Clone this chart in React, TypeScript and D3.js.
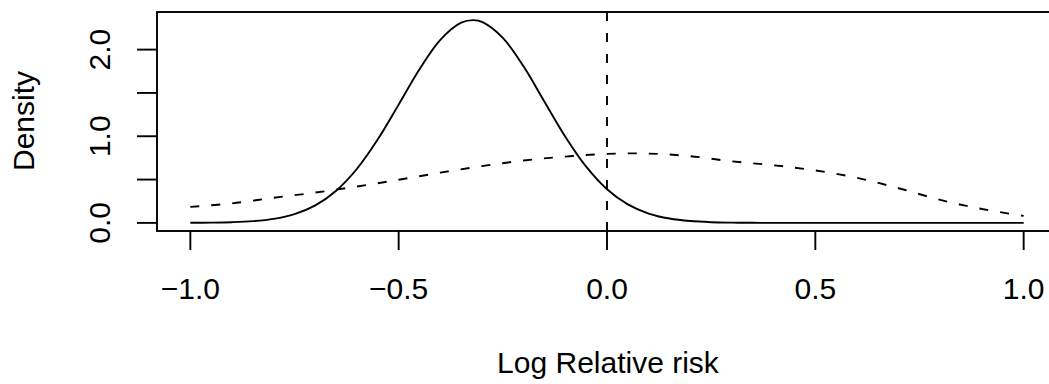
import React, { useEffect, useRef } from "react";
import * as d3 from "d3";

// x positions (log relative risk) where the curves were read
const solidX = [
  -1.0, -0.95, -0.9, -0.85, -0.8, -0.75, -0.7, -0.65, -0.6, -0.55, -0.5, -0.45,
  -0.4, -0.35, -0.32, -0.3, -0.25, -0.2, -0.15, -0.1, -0.05, 0.0, 0.05, 0.1,
  0.15, 0.2, 0.25, 0.3, 0.35, 0.4, 0.5, 0.6, 0.7, 0.8, 0.9, 1.0,
];
const solidDensity = [
  0.001, 0.003, 0.008, 0.02, 0.047, 0.102, 0.203, 0.372, 0.625, 0.965, 1.365,
  1.773, 2.113, 2.311, 2.34, 2.319, 2.135, 1.804, 1.398, 0.995, 0.649, 0.389,
  0.214, 0.108, 0.05, 0.021, 0.008, 0.003, 0.001, 0.0, 0.0, 0.0, 0.0, 0.0, 0.0,
  0.0,
];

const dashedX = [
  -1.0, -0.9, -0.8, -0.7, -0.6, -0.5, -0.4, -0.3, -0.2, -0.1, 0.0, 0.1, 0.2,
  0.3, 0.4, 0.5, 0.6, 0.7, 0.8, 0.9, 1.0,
];
const dashedDensity = [
  0.185, 0.225, 0.29, 0.35, 0.42, 0.498, 0.58, 0.655, 0.72, 0.765, 0.796, 0.8,
  0.77, 0.71, 0.665, 0.605, 0.52, 0.4, 0.265, 0.16, 0.081,
];

const xTicks = [-1.0, -0.5, 0.0, 0.5, 1.0];
const yTicks = [0.0, 0.5, 1.0, 1.5, 2.0];
const yTickLabels = ["0.0", "", "1.0", "", "2.0"];
const refLine = 0;

const App = () => {
  const ref = useRef<HTMLDivElement>(null);

  useEffect(() => {
    draw();
  });

  let draw = () => {
    d3.select(ref.current).select("svg").remove();

    let width = 1049;
    let height = 384;
    let font = "'Liberation Sans', Arial, sans-serif";
    let fontSize = "30px";
    let lw = 1.9;

    let x = d3.scaleLinear().domain([-1.08, 1.08]).range([157, 1057]);
    let y = d3.scaleLinear().domain([-0.0936, 2.434]).range([231, 12]);

    let svg = d3
      .select(ref.current)
      .append("svg")
      .attr("width", width)
      .attr("height", height)
      .style("position", "absolute")
      .style("left", 0)
      .style("top", 0)
      .style("background", "#fff");

    let line = d3
      .line<[number, number]>()
      .x((d) => x(d[0]))
      .y((d) => y(d[1]))
      .curve(d3.curveCatmullRom);

    // solid curve
    svg
      .append("path")
      .attr("d", line(solidX.map((v, i) => [v, solidDensity[i]])))
      .attr("fill", "none")
      .attr("stroke", "#000")
      .attr("stroke-width", lw);

    // dashed curve
    svg
      .append("path")
      .attr("d", line(dashedX.map((v, i) => [v, dashedDensity[i]])))
      .attr("fill", "none")
      .attr("stroke", "#000")
      .attr("stroke-width", lw)
      .attr("stroke-dasharray", "9,12");

    // reference line at 0
    svg
      .append("line")
      .attr("x1", x(refLine))
      .attr("x2", x(refLine))
      .attr("y1", y.range()[1])
      .attr("y2", y.range()[0])
      .attr("stroke", "#000")
      .attr("stroke-width", lw)
      .attr("stroke-dasharray", "9,12");

    // box
    svg
      .append("rect")
      .attr("x", 157)
      .attr("y", 12)
      .attr("width", 1057 - 157)
      .attr("height", 231 - 12)
      .attr("fill", "none")
      .attr("stroke", "#000")
      .attr("stroke-width", lw);

    // x axis
    let xAxis = svg.append("g");
    xTicks.forEach((t) => {
      xAxis
        .append("line")
        .attr("x1", x(t))
        .attr("x2", x(t))
        .attr("y1", 231)
        .attr("y2", 250)
        .attr("stroke", "#000")
        .attr("stroke-width", lw);
      xAxis
        .append("text")
        .attr("x", x(t))
        .attr("y", 299)
        .attr("text-anchor", "middle")
        .style("font-family", font)
        .style("font-size", fontSize)
        .text(d3.format(".1f")(t).replace("-", "\u2212"));
    });

    // y axis
    let yAxis = svg.append("g");
    yTicks.forEach((t, i) => {
      yAxis
        .append("line")
        .attr("x1", 137)
        .attr("x2", 157)
        .attr("y1", y(t))
        .attr("y2", y(t))
        .attr("stroke", "#000")
        .attr("stroke-width", lw);
      if (yTickLabels[i]) {
        yAxis
          .append("text")
          .attr("transform", `translate(110, ${y(t)}) rotate(-90)`)
          .attr("text-anchor", "middle")
          .style("font-family", font)
          .style("font-size", fontSize)
          .text(yTickLabels[i]);
      }
    });

    svg
      .append("text")
      .attr("x", 608)
      .attr("y", 373)
      .attr("text-anchor", "middle")
      .style("font-family", font)
      .style("font-size", fontSize)
      .text("Log Relative risk");

    svg
      .append("text")
      .attr("transform", `translate(34, 121) rotate(-90)`)
      .attr("text-anchor", "middle")
      .style("font-family", font)
      .style("font-size", fontSize)
      .text("Density");
  };

  return <div ref={ref}></div>;
};

export default App;
